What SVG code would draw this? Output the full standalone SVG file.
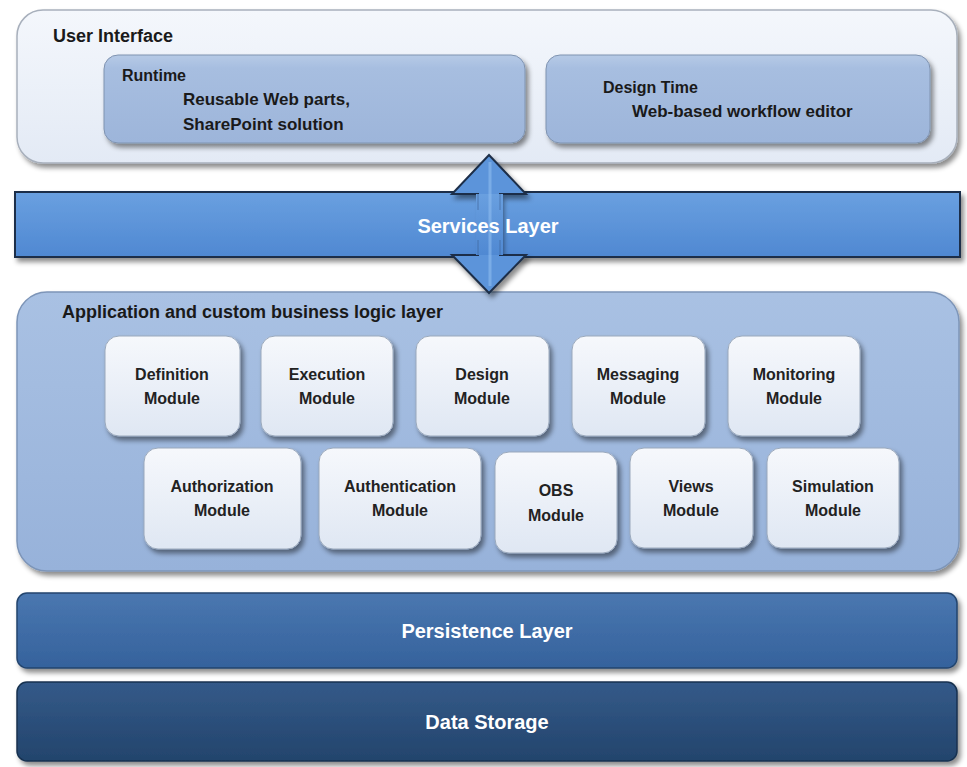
<svg xmlns="http://www.w3.org/2000/svg" width="967" height="767" viewBox="0 0 967 767">
<defs>
<style>
text{font-family:"Liberation Sans",Arial,sans-serif;font-weight:bold;}
.dk{fill:#1a1a1a;}
.lbl{font-size:17px;}
.mod{font-size:16px;text-anchor:middle;fill:#222;}
.wt{fill:#ffffff;font-size:20px;text-anchor:middle;}
.modbox{fill:url(#gMod);stroke:#9aa8bb;stroke-width:1;filter:url(#sh);}
</style>
<filter id="sh" x="-10%" y="-10%" width="125%" height="130%">
<feDropShadow dx="3" dy="4" stdDeviation="2.5" flood-color="#000" flood-opacity="0.45"/>
</filter>
<linearGradient id="gUI" x1="0" y1="0" x2="0" y2="1">
<stop offset="0" stop-color="#f4f7fc"/><stop offset="1" stop-color="#e3eaf5"/>
</linearGradient>
<linearGradient id="gRT" x1="0" y1="0" x2="0" y2="1">
<stop offset="0" stop-color="#b6cae6"/><stop offset="0.15" stop-color="#a7bee0"/><stop offset="1" stop-color="#9db5da"/>
</linearGradient>
<linearGradient id="gApp" x1="0" y1="0" x2="0" y2="1">
<stop offset="0" stop-color="#a9c1e3"/><stop offset="1" stop-color="#97b2da"/>
</linearGradient>
<linearGradient id="gMod" x1="0" y1="0" x2="0" y2="1">
<stop offset="0" stop-color="#f6f8fc"/><stop offset="1" stop-color="#dfe7f3"/>
</linearGradient>
<linearGradient id="gSvc" x1="0" y1="0" x2="0" y2="1">
<stop offset="0" stop-color="#6aa0e0"/><stop offset="1" stop-color="#4f88d2"/>
</linearGradient>
<linearGradient id="gSvcIn" gradientUnits="userSpaceOnUse" x1="0" y1="192" x2="0" y2="257">
<stop offset="0" stop-color="#6aa0e0"/><stop offset="1" stop-color="#4f88d2"/>
</linearGradient>
<linearGradient id="gPer" x1="0" y1="0" x2="0" y2="1">
<stop offset="0" stop-color="#4a77b0"/><stop offset="1" stop-color="#35629c"/>
</linearGradient>
<linearGradient id="gDS" x1="0" y1="0" x2="0" y2="1">
<stop offset="0" stop-color="#345a89"/><stop offset="1" stop-color="#23446c"/>
</linearGradient>
</defs>

<rect width="967" height="767" fill="#ffffff"/>

<g id="user-interface">
<rect x="17" y="10" width="940" height="153" rx="26" fill="url(#gUI)" stroke="#a8b0bc" stroke-width="1.5" filter="url(#sh)"/>
<text x="53" y="42" class="dk" font-size="18">User Interface</text>
</g>
<g id="runtime">
<rect x="104" y="55" width="421" height="88" rx="14" fill="url(#gRT)" stroke="#7f93b0" stroke-width="1" filter="url(#sh)"/>
<text x="122" y="81" class="dk" font-size="16">Runtime</text>
<text x="183" y="105" class="dk lbl">Reusable Web parts,</text>
<text x="183" y="130" class="dk lbl">SharePoint solution</text>
</g>
<g id="design-time">
<rect x="546" y="55" width="384" height="88" rx="14" fill="url(#gRT)" stroke="#7f93b0" stroke-width="1" filter="url(#sh)"/>
<text x="603" y="93" class="dk" font-size="16">Design Time</text>
<text x="632" y="117" class="dk lbl">Web-based workflow editor</text>
</g>

<g id="application-layer">
<rect x="17" y="292" width="942" height="279" rx="30" fill="url(#gApp)" stroke="#7d95b8" stroke-width="1.5" filter="url(#sh)"/>
<text x="62" y="318" class="dk" font-size="18">Application and custom business logic layer</text>
</g>

<g id="services-layer">
<rect x="15" y="192" width="945" height="65" fill="url(#gSvc)" stroke="#1f2f48" stroke-width="2" filter="url(#sh)"/>
</g>

<g id="connectors">
<path d="M489,155 L526,194 L500,194 L500,255 L526,255 L489,293 L452,255 L478,255 L478,194 L452,194 Z" fill="#5b94da" stroke="#1f2f48" stroke-width="2" filter="url(#sh)"/>
<rect x="476" y="194" width="27" height="61" fill="url(#gSvcIn)"/>
<line x1="478" y1="194" x2="478" y2="210" stroke="#3a5f90" stroke-width="1" opacity="0.6"/>
<line x1="500" y1="194" x2="500" y2="210" stroke="#3a5f90" stroke-width="1" opacity="0.6"/>
<line x1="478" y1="240" x2="478" y2="255" stroke="#3a5f90" stroke-width="1" opacity="0.6"/>
<line x1="500" y1="240" x2="500" y2="255" stroke="#3a5f90" stroke-width="1" opacity="0.6"/>
<line x1="490" y1="162" x2="490" y2="286" stroke="#8fbcef" stroke-width="3" opacity="0.6"/>
</g>
<text x="488" y="233" class="wt">Services Layer</text>

<g id="definition-module"><rect class="modbox" x="105" y="336" width="135" height="100" rx="14"/><text class="mod" x="172" y="380">Definition</text><text class="mod" x="172" y="404">Module</text></g>
<g id="execution-module"><rect class="modbox" x="261" y="336" width="132" height="100" rx="14"/><text class="mod" x="327" y="380">Execution</text><text class="mod" x="327" y="404">Module</text></g>
<g id="design-module"><rect class="modbox" x="416" y="336" width="133" height="100" rx="14"/><text class="mod" x="482" y="380">Design</text><text class="mod" x="482" y="404">Module</text></g>
<g id="messaging-module"><rect class="modbox" x="572" y="336" width="133" height="100" rx="14"/><text class="mod" x="638" y="380">Messaging</text><text class="mod" x="638" y="404">Module</text></g>
<g id="monitoring-module"><rect class="modbox" x="728" y="336" width="132" height="100" rx="14"/><text class="mod" x="794" y="380">Monitoring</text><text class="mod" x="794" y="404">Module</text></g>

<g id="authorization-module"><rect class="modbox" x="144" y="448" width="157" height="101" rx="14"/><text class="mod" x="222" y="492">Authorization</text><text class="mod" x="222" y="516">Module</text></g>
<g id="authentication-module"><rect class="modbox" x="319" y="448" width="162" height="101" rx="14"/><text class="mod" x="400" y="492">Authentication</text><text class="mod" x="400" y="516">Module</text></g>
<g id="obs-module"><rect class="modbox" x="495" y="452" width="122" height="101" rx="14"/><text class="mod" x="556" y="496">OBS</text><text class="mod" x="556" y="521">Module</text></g>
<g id="views-module"><rect class="modbox" x="630" y="448" width="123" height="100" rx="14"/><text class="mod" x="691" y="492">Views</text><text class="mod" x="691" y="516">Module</text></g>
<g id="simulation-module"><rect class="modbox" x="767" y="448" width="132" height="100" rx="14"/><text class="mod" x="833" y="492">Simulation</text><text class="mod" x="833" y="516">Module</text></g>

<g id="persistence-layer">
<rect x="17" y="593" width="940" height="75" rx="10" fill="url(#gPer)" stroke="#24446e" stroke-width="1.5" filter="url(#sh)"/>
<text x="487" y="638" class="wt">Persistence Layer</text>
</g>
<g id="data-storage">
<rect x="17" y="682" width="940" height="79" rx="10" fill="url(#gDS)" stroke="#17304f" stroke-width="1.5" filter="url(#sh)"/>
<text x="487" y="729" class="wt">Data Storage</text>
</g>
</svg>
